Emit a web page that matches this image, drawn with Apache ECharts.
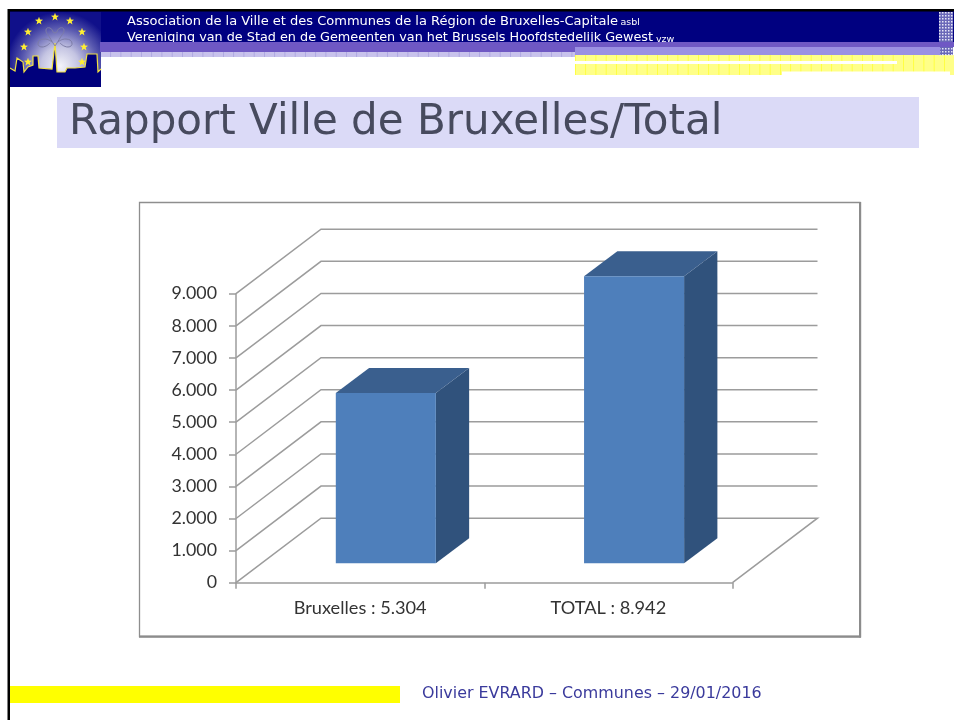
<!DOCTYPE html>
<html><head><meta charset="utf-8">
<style>html,body{margin:0;padding:0;background:#fff}#c{width:954px;height:720px}</style>
<script src="https://cdn.jsdelivr.net/npm/echarts@6/dist/echarts.min.js"></script>
</head><body><div id="c"></div>
<script>
const categories = ['Bruxelles : 5.304', 'TOTAL : 8.942'];
const barValues = [5304, 8942];
const yTicks = [0, 1000, 2000, 3000, 4000, 5000, 6000, 7000, 8000, 9000];
const yTickLabels = ['0', '1.000', '2.000', '3.000', '4.000', '5.000', '6.000', '7.000', '8.000', '9.000'];
const titleText = 'Rapport Ville de Bruxelles/Total';
const headerFr = 'Association de la Ville et des Communes de la Région de Bruxelles-Capitale';
const headerNl = 'Vereniging van de Stad en de Gemeenten van het Brussels Hoofdstedelijk Gewest';
const footerText = 'Olivier EVRARD – Communes – 29/01/2016';

// 3D projection constants
const WALL = [85, -64.5], BAR_START = [25.7, -19.4], BAR_DEPTH = [33.3, -25];
const GRID_C = '#9c9c9c';

function star(cx, cy, r) {
  const p = [];
  for (let i = 0; i < 10; i++) {
    const a = -Math.PI / 2 + i * Math.PI / 5, q = i % 2 ? r * 0.42 : r;
    p.push([cx + q * Math.cos(a), cy + q * Math.sin(a)]);
  }
  return { type: 'polygon', z: 6, shape: { points: p }, style: { fill: '#ffee33' } };
}
const rect = (x, y, w, h, fill, z) => ({ type: 'rect', z: z || 1, shape: { x, y, width: w, height: h }, style: { fill } });
const starPos = [[39,21],[55,17],[70,21],[28,32],[82,32],[24,47],[84,47],[28,62],[82,62]];
const skyline = [[10,68],[15,71],[17,58],[23,62],[24,72],[28,67],[33,65],[33,56],[38,56],[39,68],[52,69],[55,43],[57,72],[65,72],[67,68],[75,68],[85,67],[87,54],[97,54],[98,72],[101,69]];

const strips = [];
for (let x = 100; x < 575; x += 10.25) strips.push(rect(x, 52, 0.8, 5, '#aaa2e0', 2));
for (let x = 575; x < 954; x += 10.25) strips.push(rect(x, 55, 0.8, 20, '#ffff33', 2));
for (let x = 939; x < 953; x += 3) for (let y = 12; y < 55; y += 3) strips.push(rect(x, y, 1.5, 1.5, '#e6e6f6', 3));

const decor = [
  rect(10, 11, 944, 31, '#000080'),
  rect(8, 9, 946, 2.5, '#000000', 8),
  rect(7.5, 9, 2.5, 711, '#000000', 8),
  rect(100, 42, 854, 5, '#6f58c4', 7),
  rect(100, 47, 475, 5, '#6f58c4', 7),
  rect(100, 52, 475, 5, '#c8c2ec'),
  rect(575, 47, 365, 8, '#9b90e2', 7),
  rect(575, 55, 379, 20, '#ffff88'),
  ...strips,
  rect(575, 61, 322, 3, '#ffffff', 3),
  rect(782, 71.5, 168, 4, '#ffffff', 3),
  rect(939, 12, 14, 43, '#6a68b8', 2),
  rect(57, 97, 862, 51, '#dbdaf7'),
  rect(10, 686, 390, 17, '#ffff00'),
  { type: 'rect', z: 4, shape: { x: 10, y: 12, width: 91, height: 75 },
    style: { fill: { type: 'radial', x: 0.55, y: 0.72, r: 0.72, colorStops: [
      { offset: 0, color: '#f4f4fa' }, { offset: 0.35, color: '#c4c4e2' }, { offset: 0.7, color: '#5a5ab0' }, { offset: 1, color: '#10108a' }] } } },
  { type: 'polygon', z: 5, shape: { points: skyline.concat([[101,87],[10,87]]) }, style: { fill: '#00007c' } },
  { type: 'polyline', z: 5, shape: { points: skyline }, style: { stroke: '#f0e040', fill: null, lineWidth: 1.2 } },
  { type: 'polyline', z: 5, shape: { smooth: 0.6, points: [[55,46],[50,38],[46,30],[50,28],[55,33],[60,28],[64,30],[60,38],[55,46]] }, style: { stroke: '#7c7ca6', fill: null, lineWidth: 1 } },
  { type: 'polyline', z: 5, shape: { smooth: 0.6, points: [[50,43],[42,47],[38,43],[44,39],[52,42]] }, style: { stroke: '#7c7ca6', fill: null, lineWidth: 1 } },
  { type: 'polyline', z: 5, shape: { smooth: 0.6, points: [[60,43],[68,47],[72,43],[66,39],[58,42]] }, style: { stroke: '#7c7ca6', fill: null, lineWidth: 1 } },
  ...starPos.map(p => star(p[0], p[1], 4.2)),
  { type: 'text', z: 6, x: 127, y: 15, style: { text: headerFr, fill: '#fff', font: '13px "DejaVu Sans"' } },
  { type: 'text', z: 6, x: 620.5, y: 18, style: { text: 'asbl', fill: '#fff', font: '9.5px "DejaVu Sans"' } },
  { type: 'text', z: 6, x: 127, y: 31.5, style: { text: headerNl, fill: '#fff', font: '12.8px "DejaVu Sans"' } },
  { type: 'text', z: 6, x: 656, y: 34.5, style: { text: 'vzw', fill: '#fff', font: '9.5px "DejaVu Sans"' } },
  { type: 'text', z: 6, x: 422, y: 686, style: { text: footerText, fill: '#3a3a9c', font: '15.9px "DejaVu Sans"' } },
  // chart panel
  { type: 'rect', z: 1, shape: { x: 139.5, y: 202.5, width: 720.5, height: 434 }, style: { fill: '#ffffff', stroke: '#8e8e8e', lineWidth: 1.3 } },
  rect(859, 202, 2.2, 435.5, '#8c8c8c', 2),
  rect(139, 635.5, 722, 2.2, '#8c8c8c', 2)
];

const chart = echarts.init(document.getElementById('c'), null, { renderer: 'canvas' });
chart.setOption({
  animation: false,
  backgroundColor: '#ffffff',
  title: { text: titleText, left: 64, top: 97, z: 9, textStyle: { fontFamily: 'DejaVu Sans', fontSize: 42, fontWeight: 'normal', color: '#474a5e' } },
  graphic: { elements: decor },
  grid: { left: 236, top: 293.7, width: 496.5, height: 289, containLabel: false },
  xAxis: {
    type: 'category', data: categories, boundaryGap: true, z: 5,
    axisLine: { lineStyle: { color: GRID_C, width: 1.5 } },
    axisTick: { show: true, length: 6, alignWithLabel: false, lineStyle: { color: GRID_C, width: 1.5 } },
    axisLabel: { margin: 16, fontFamily: 'Lato', fontSize: 18.2, color: '#333333' }
  },
  yAxis: {
    type: 'value', min: 0, max: 9000, interval: 1000, z: 5,
    axisLine: { show: true, lineStyle: { color: GRID_C, width: 1.5 } },
    axisTick: { show: true, length: 7, lineStyle: { color: GRID_C, width: 1.5 } },
    splitLine: { show: false },
    axisLabel: { margin: 19, fontFamily: 'Lato', fontSize: 17.8, color: '#333333', formatter: (v, i) => yTickLabels[i] }
  },
  series: [
    {
      type: 'custom', name: 'walls', z: 2, silent: true, clip: false,
      data: yTicks.map(v => [0, v]),
      encode: { x: 0, y: 1 },
      renderItem(params, api) {
        const v = api.value(1), cs = params.coordSys;
        const y = api.coord([0, v])[1], x0 = cs.x, x1 = cs.x + cs.width;
        const pts = [[x0, y], [x0 + WALL[0], y + WALL[1]], [x1 + WALL[0], y + WALL[1]]];
        if (v === 0) pts.push([x1, y]);
        return { type: 'polyline', shape: { points: pts }, style: { stroke: GRID_C, lineWidth: 1.5, fill: null } };
      }
    },
    {
      type: 'custom', name: 'bars', z: 3, clip: false,
      data: barValues.map((v, i) => [i, v]),
      encode: { x: 0, y: 1 },
      renderItem(params, api) {
        const i = api.value(0), v = api.value(1);
        const base = api.coord([i, 0]), top = api.coord([i, v]);
        const w = api.size([1, 0])[0] * 0.403;
        const xl = base[0] + BAR_START[0] - w / 2, xr = xl + w;
        const yb = base[1] + BAR_START[1], yt = top[1] + BAR_START[1];
        const dx = BAR_DEPTH[0], dy = BAR_DEPTH[1];
        const poly = (points, fill) => ({ type: 'polygon', shape: { points }, style: { fill } });
        return { type: 'group', children: [
          poly([[xr, yb], [xr + dx, yb + dy], [xr + dx, yt + dy], [xr, yt]], '#30527c'),
          poly([[xl, yt], [xl + dx, yt + dy], [xr + dx, yt + dy], [xr, yt]], '#3a5f8e'),
          poly([[xl, yb], [xr, yb], [xr, yt], [xl, yt]], '#4e7fbb')
        ] };
      }
    }
  ]
});
</script></body></html>
